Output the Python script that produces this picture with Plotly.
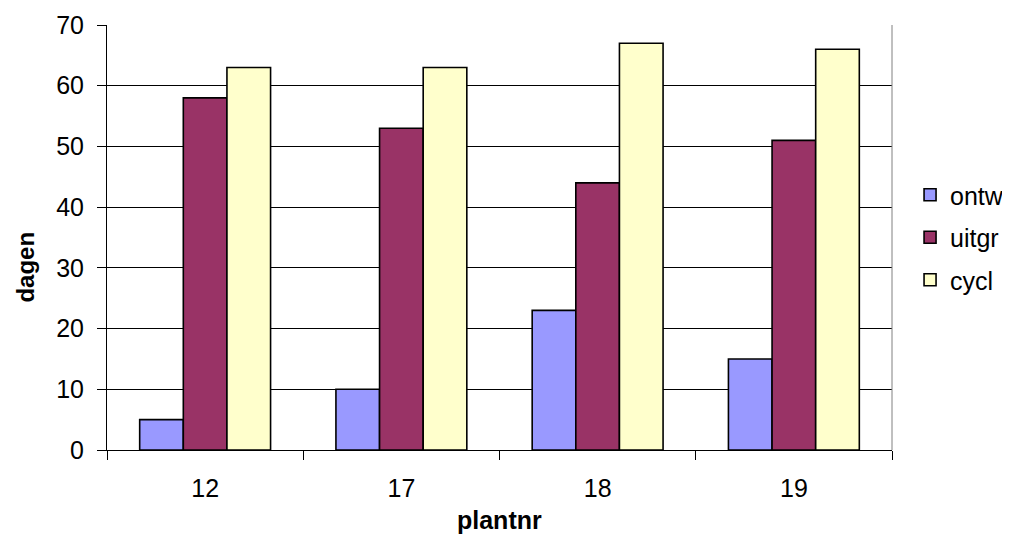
import plotly.graph_objects as go

categories = ["12", "17", "18", "19"]
ontw = [5, 10, 23, 15]
uitgr = [58, 53, 44, 51]
cycl = [63, 63, 67, 66]
series_names = ["ontw", "uitgr", "cycl"]
colors = ["#9999FF", "#993366", "#FFFFCC"]

fig = go.Figure()
for name, vals, col in zip(series_names, [ontw, uitgr, cycl], colors):
    fig.add_trace(go.Bar(
        x=categories, y=vals, name=name, legendgroup=name,
        marker=dict(color=col, line=dict(color="black", width=1.6)),
    ))

font = "Liberation Sans, Arial, sans-serif"
fig.update_layout(
    width=1010, height=557,
    margin=dict(l=99, r=126, t=17, b=115, autoexpand=False),
    paper_bgcolor="white", plot_bgcolor="white",
    barmode="group", bargap=0.333, bargroupgap=0,
    font=dict(family=font, size=25, color="black"),
    showlegend=True,
    legend=dict(x=1.023, y=0.50, xanchor="left", yanchor="middle",
                font=dict(size=25), traceorder="grouped", tracegroupgap=7,
                bgcolor="rgba(0,0,0,0)"),
    xaxis=dict(
        showline=True, linecolor="black", linewidth=1,
        ticks="outside", ticklen=9, tickcolor="black", tickson="boundaries",
        showgrid=False, automargin=False, ticklabelstandoff=16,
        tickfont=dict(size=25),
    ),
    yaxis=dict(
        range=[0, 70], dtick=10, showline=True, linecolor="black", linewidth=1,
        ticks="outside", ticklen=9, tickcolor="black",
        showgrid=True, gridcolor="black", gridwidth=1,
        tickfont=dict(size=25), zeroline=False, automargin=False,
        ticklabelstandoff=8,
    ),
    annotations=[
        dict(text="<b>plantnr</b>", xref="paper", yref="paper", x=0.5, y=-0.165,
             xanchor="center", yanchor="middle", showarrow=False, font=dict(size=25)),
        dict(text="<b>dagen</b>", xref="paper", yref="paper", x=-0.104, y=0.43,
             xanchor="center", yanchor="middle", showarrow=False, textangle=-90,
             borderpad=0, font=dict(size=24)),
    ],
)
# right border of plot area
fig.add_shape(type="line", xref="paper", yref="paper", x0=1, x1=1, y0=0, y1=1,
              line=dict(color="#808080", width=1))

fig.write_html("out.html")
